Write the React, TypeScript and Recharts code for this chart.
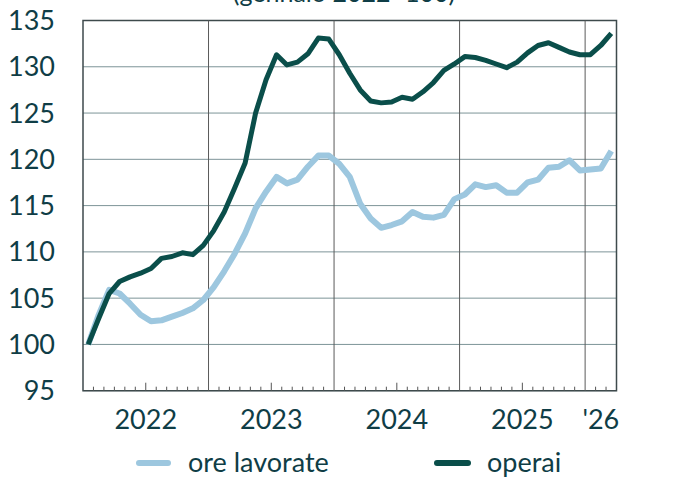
import { LineChart, Line, XAxis, YAxis, CartesianGrid, ReferenceLine, ReferenceArea } from "recharts";

// mesi: gennaio 2022 - marzo 2026
const MESI = [
  "gen22", "feb22", "mar22", "apr22", "mag22", "giu22", "lug22", "ago22", "set22", "ott22", "nov22", "dic22",
  "gen23", "feb23", "mar23", "apr23", "mag23", "giu23", "lug23", "ago23", "set23", "ott23", "nov23", "dic23",
  "gen24", "feb24", "mar24", "apr24", "mag24", "giu24", "lug24", "ago24", "set24", "ott24", "nov24", "dic24",
  "gen25", "feb25", "mar25", "apr25", "mag25", "giu25", "lug25", "ago25", "set25", "ott25", "nov25", "dic25",
  "gen26", "feb26", "mar26",
];

const ORE_LAVORATE = [
  100, 103.2, 105.9, 105.5, 104.4, 103.2, 102.5, 102.6, 103.0, 103.4, 103.9, 104.8,
  106.2, 107.9, 109.8, 112.0, 114.7, 116.5, 118.1, 117.4, 117.8, 119.2, 120.4, 120.4,
  119.5, 118.1, 115.2, 113.6, 112.6, 112.9, 113.3, 114.3, 113.8, 113.7, 114.0, 115.7,
  116.2, 117.3, 117.0, 117.2, 116.4, 116.4, 117.5, 117.8, 119.1, 119.2, 119.9, 118.8,
  118.9, 119.0, 120.9,
];

const OPERAI = [
  100, 102.8, 105.5, 106.8, 107.3, 107.7, 108.2, 109.3, 109.5, 109.9, 109.7, 110.7,
  112.3, 114.3, 116.9, 119.6, 125.0, 128.6, 131.3, 130.2, 130.5, 131.4, 133.1, 133.0,
  131.3, 129.3, 127.5, 126.3, 126.1, 126.2, 126.7, 126.5, 127.3, 128.3, 129.6, 130.3,
  131.1, 131.0, 130.7, 130.3, 129.9, 130.5, 131.5, 132.3, 132.6, 132.1, 131.6, 131.3,
  131.3, 132.3, 133.6,
];

const ANNI = ["2022", "2023", "2024", "2025", "'26"];
const ANNI_CENTRO = [6, 18, 30, 42, 49.5];
const INIZIO_ANNO = [12, 24, 36, 48];
const META_ANNO = [6, 18, 30, 42];
const Y_TICKS = [95, 100, 105, 110, 115, 120, 125, 130, 135];

const data = MESI.map((m, i) => ({
  mese: m,
  t: i + 0.5,
  ore: ORE_LAVORATE[i],
  operai: OPERAI[i],
}));

// tacche mensili sull'asse (le semestrali sono più lunghe)
const TICK_MESI = MESI.map((_, i) => i + 1).filter(
  (v) => v < MESI.length && !INIZIO_ANNO.includes(v) && !META_ANNO.includes(v)
);

const TESTO = "#0f3d46";
const CHIARO = "#9dc7df";
const SCURO = "#0a4e4a";
const FONT = "Lato, 'Open Sans', sans-serif";
const Y_MIN = 95;
const PX_PER_UNITA = 9.26;

export default function App() {
  const tickStyle = { fill: TESTO, fontSize: 27, fontFamily: FONT };
  const tacca = (x: number, px: number) => (
    <ReferenceLine
      key={"t" + x}
      xAxisId="anni"
      yAxisId="l"
      segment={[{ x, y: Y_MIN }, { x, y: Y_MIN + px / PX_PER_UNITA }]}
      stroke="#555"
      strokeWidth={1}
      ifOverflow="visible"
    />
  );
  return (
    <div style={{ position: "absolute", left: 0, top: 0, width: 693, height: 477, background: "#fff" }}>
      <LineChart
        width={693}
        height={477}
        data={data}
        margin={{ top: 20.5, right: 0, left: 0, bottom: 0 }}
      >
        <XAxis
          xAxisId="anni"
          dataKey="t"
          type="number"
          domain={[0, 51]}
          ticks={ANNI_CENTRO}
          interval={0}
          tickFormatter={(v) => ANNI[ANNI_CENTRO.indexOf(v)]}
          tickLine={false}
          axisLine={false}
          tickSize={0}
          tickMargin={19}
          tick={tickStyle}
          height={86.3}
        />
        <YAxis
          yAxisId="l"
          domain={[95, 135]}
          ticks={Y_TICKS}
          interval={0}
          tickLine={false}
          axisLine={false}
          tickSize={0}
          tickMargin={28}
          tick={tickStyle}
          width={83}
        />
        <YAxis
          yAxisId="r"
          orientation="right"
          domain={[95, 135]}
          ticks={Y_TICKS}
          interval={0}
          tickLine={false}
          axisLine={false}
          tickSize={0}
          tickMargin={26}
          tick={tickStyle}
          width={76.5}
        />
        <CartesianGrid xAxisId="anni" yAxisId="l" vertical={false} stroke="#7d9498" strokeWidth={1} />
        {INIZIO_ANNO.map((x) => (
          <ReferenceLine key={x} xAxisId="anni" yAxisId="l" x={x} stroke="#5a5a5a" strokeWidth={1} />
        ))}
        {TICK_MESI.map((x) => tacca(x, 4))}
        {META_ANNO.map((x) => tacca(x, 8))}
        <ReferenceArea
          xAxisId="anni"
          yAxisId="l"
          x1={0}
          x2={51}
          y1={95}
          y2={135}
          fill="none"
          fillOpacity={0}
          stroke="#3e4a4c"
          strokeWidth={1.5}
          ifOverflow="visible"
        />
        <Line
          xAxisId="anni"
          yAxisId="l"
          type="linear"
          dataKey="ore"
          stroke={CHIARO}
          strokeWidth={6}
          strokeLinejoin="round"
          dot={false}
          isAnimationActive={false}
        />
        <Line
          xAxisId="anni"
          yAxisId="l"
          type="linear"
          dataKey="operai"
          stroke={SCURO}
          strokeWidth={5}
          strokeLinejoin="round"
          dot={false}
          isAnimationActive={false}
        />
      </LineChart>
      <svg
        width={693}
        height={477}
        style={{ position: "absolute", left: 0, top: 0, pointerEvents: "none" }}
      >
        <text x={344} y={2} textAnchor="middle" fill={TESTO} fontSize={25} fontFamily={FONT}>
          (gennaio 2022=100)
        </text>
        <line x1={139} x2={168} y1={463} y2={463} stroke={CHIARO} strokeWidth={6} strokeLinecap="round" />
        <text x={188} y={472} fill={TESTO} fontSize={27} fontFamily={FONT}>
          ore lavorate
        </text>
        <line x1={437} x2={468} y1={463} y2={463} stroke={SCURO} strokeWidth={6} strokeLinecap="round" />
        <text x={487} y={472} fill={TESTO} fontSize={27} fontFamily={FONT}>
          operai
        </text>
      </svg>
    </div>
  );
}
